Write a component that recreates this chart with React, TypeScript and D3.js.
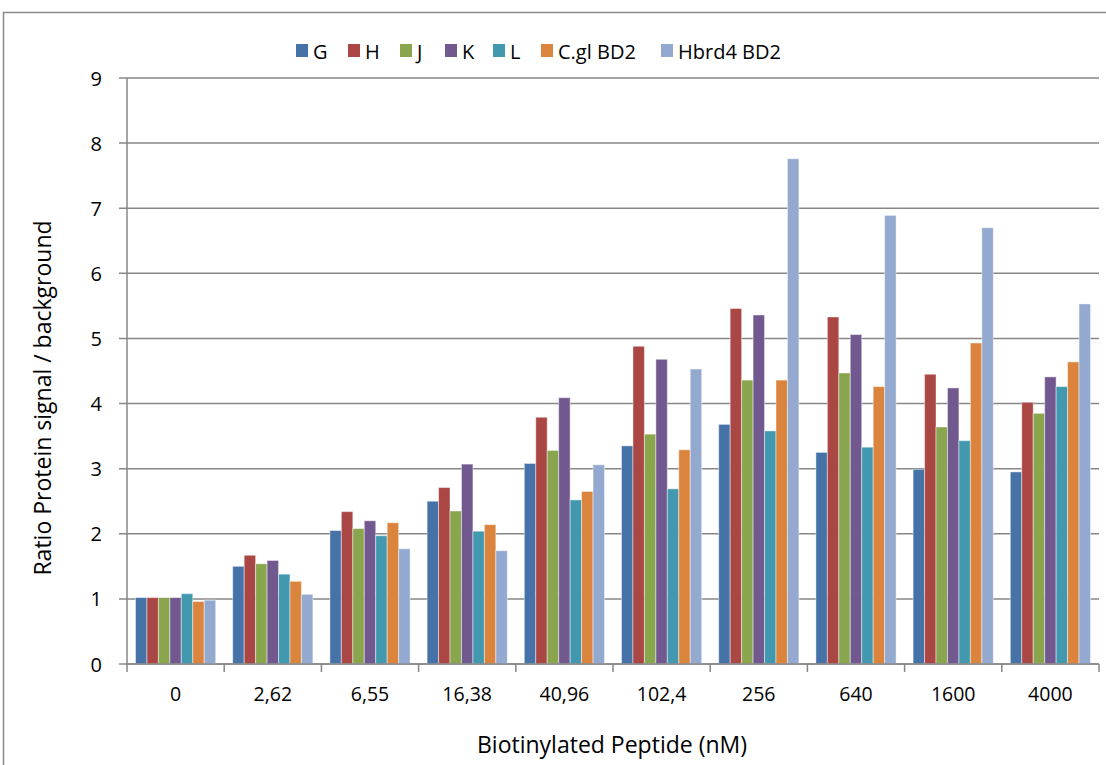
import * as React from 'react'
import * as d3 from 'd3'

const categories = ['0', '2,62', '6,55', '16,38', '40,96', '102,4', '256', '640', '1600', '4000']
const seriesNames = ['G', 'H', 'J', 'K', 'L', 'C.gl BD2', 'Hbrd4 BD2']
const seriesColors = ['#4572A7', '#AA4643', '#89A54E', '#71588F', '#4198AF', '#DB843D', '#93A9CF']

const valuesG = [1.02, 1.5, 2.05, 2.5, 3.08, 3.35, 3.68, 3.25, 2.99, 2.95]
const valuesH = [1.02, 1.67, 2.34, 2.71, 3.79, 4.88, 5.46, 5.33, 4.45, 4.02]
const valuesJ = [1.02, 1.54, 2.08, 2.35, 3.28, 3.53, 4.36, 4.47, 3.64, 3.85]
const valuesK = [1.02, 1.59, 2.2, 3.07, 4.09, 4.68, 5.36, 5.06, 4.24, 4.41]
const valuesL = [1.08, 1.38, 1.97, 2.04, 2.52, 2.69, 3.58, 3.33, 3.43, 4.26]
const valuesCgl = [0.96, 1.27, 2.17, 2.14, 2.65, 3.29, 4.36, 4.26, 4.93, 4.64]
const valuesHbrd = [0.98, 1.07, 1.77, 1.74, 3.06, 4.53, 7.76, 6.89, 6.7, 5.53]

const seriesValues = [valuesG, valuesH, valuesJ, valuesK, valuesL, valuesCgl, valuesHbrd]
const yTicks = [0, 1, 2, 3, 4, 5, 6, 7, 8, 9]

export default function App() {
    const WIDTH = 1106
    const HEIGHT = 765
    const LEFT = 127
    const RIGHT = 1099
    const TOP = 78
    const BOTTOM = 664
    const FONT = 'Open Sans, Noto Sans, sans-serif'
    const GRID = '#878787'

    const x0 = d3.scaleBand().domain(categories).range([LEFT, RIGHT]).paddingInner(0.175).paddingOuter(0.0875)
    const x1 = d3.scaleBand().domain(seriesNames).range([0, x0.bandwidth()])
    const y = d3.scaleLinear().domain([0, 9]).range([BOTTOM, TOP])

    const step = (RIGHT - LEFT) / categories.length
    const legendX = [296, 348, 400, 445, 493, 541, 661]

    return <div>
        <style>{'body{margin:0}'}</style>
        <svg width={WIDTH} height={HEIGHT} viewBox={`0 0 ${WIDTH} ${HEIGHT}`} style={{ display: 'block', fontFamily: FONT }}>
            <rect x={0} y={0} width={WIDTH} height={HEIGHT} fill="#fff" />
            <path d={`M3.5,${HEIGHT + 5} V12.5 H${WIDTH + 5}`} fill="none" stroke="#8a8a8a" strokeWidth={1.5} />

            {/* gridlines */}
            {yTicks.map(t =>
                <line key={t} x1={LEFT - 8} x2={RIGHT} y1={y(t)} y2={y(t)} stroke={GRID} strokeWidth={1.5} />
            )}

            {/* bars */}
            {categories.map((c, ci) =>
                <g key={c} transform={`translate(${x0(c)},0)`}>
                    {seriesNames.map((s, si) => {
                        const v = seriesValues[si][ci]
                        return <rect
                            key={s}
                            x={x1(s)}
                            y={y(v)}
                            width={x1.bandwidth()}
                            height={y(0) - y(v)}
                            fill={seriesColors[si]}
                            stroke="#ffffff"
                            strokeOpacity={0.45}
                            strokeWidth={1}
                        />
                    })}
                </g>
            )}

            {/* axes */}
            <line x1={LEFT} x2={LEFT} y1={TOP} y2={BOTTOM} stroke={GRID} strokeWidth={1.5} />
            <line x1={LEFT} x2={RIGHT} y1={BOTTOM} y2={BOTTOM} stroke={GRID} strokeWidth={1.5} />
            {d3.range(categories.length + 1).map(i =>
                <line key={i} x1={LEFT + i * step} x2={LEFT + i * step} y1={BOTTOM} y2={BOTTOM + 8} stroke={GRID} strokeWidth={1.5} />
            )}

            {yTicks.map(t =>
                <text key={t} x={102} y={y(t)} textAnchor="end" dominantBaseline="central" fontSize={20} fill="#000">{t}</text>
            )}
            {categories.map(c =>
                <text key={c} x={(x0(c) as number) + x0.bandwidth() / 2} y={693} textAnchor="middle" dominantBaseline="central" fontSize={19.5} fill="#000">{c}</text>
            )}

            <text x={612} y={744} textAnchor="middle" dominantBaseline="central" fontSize={23} fill="#000">Biotinylated Peptide (nM)</text>
            <text transform={`translate(42 398) rotate(-90)`} textAnchor="middle" dominantBaseline="central" fontSize={23} fill="#000">Ratio Protein signal / background</text>

            {/* legend */}
            {seriesNames.map((s, i) =>
                <g key={s} transform={`translate(${legendX[i]},44)`}>
                    <rect x={0} y={0} width={12} height={13} fill={seriesColors[i]} />
                    <text x={17} y={7} dominantBaseline="central" fontSize={20} fill="#000">{s}</text>
                </g>
            )}
        </svg>
    </div>
}
